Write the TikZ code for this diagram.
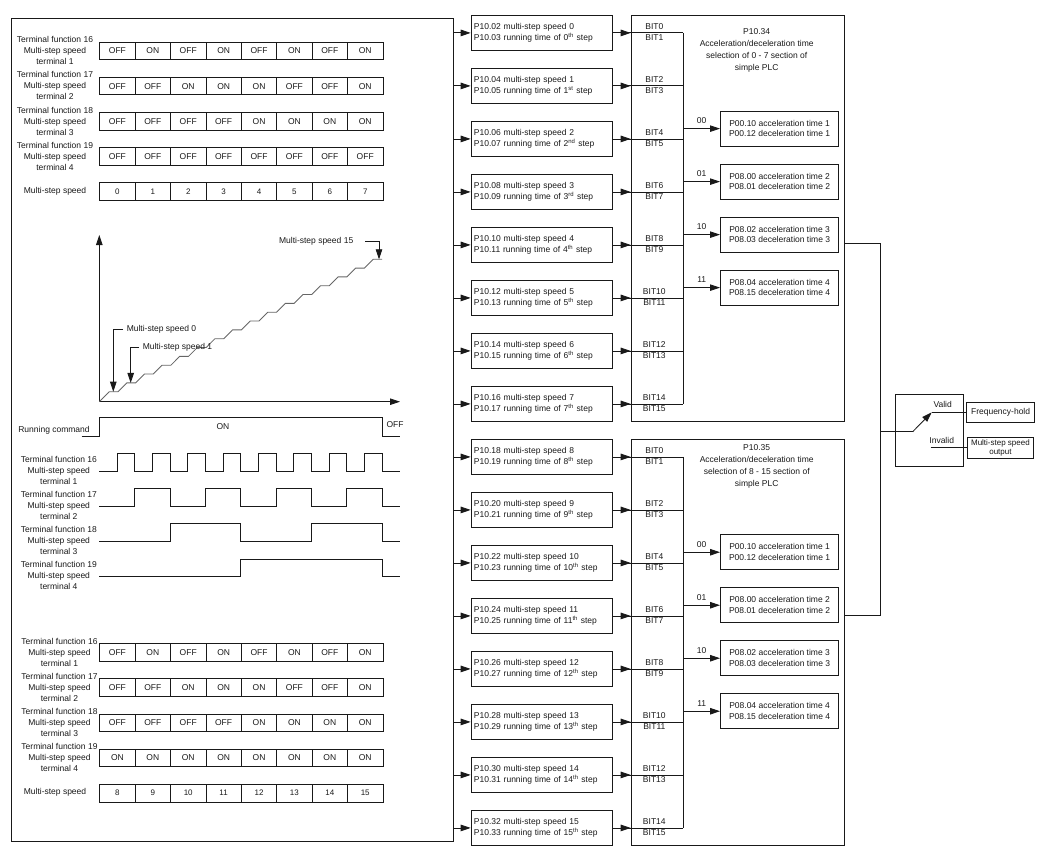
\documentclass[tikz,border=0pt]{standalone}
\usepackage{fontspec}
\setmainfont{Liberation Sans}
\usetikzlibrary{arrows.meta}
\providecommand{\boxfont}{\fontsize{8.5}{10.6}\selectfont}
\providecommand{\numfont}{\fontsize{8}{9}\selectfont}
\tikzset{
  arr/.style={-{Triangle[length=10pt,width=6.5pt]}},
  cell/.style={draw,anchor=north west,minimum width=35.4pt,minimum height=17.6pt,inner sep=0},
  pbox/.style={draw,anchor=north west,minimum height=35pt,text width=136pt,inner xsep=2.8pt,inner ysep=0,align=left,font=\boxfont},
  plcbox/.style={draw,anchor=north west,minimum width=213.6pt,minimum height=406pt,inner sep=0},
  selbox/.style={draw,anchor=north west,minimum width=118.3pt,minimum height=35pt,inner sep=0,align=center,font=\boxfont},
  lbl/.style={align=center,inner sep=1pt},
}

\begin{document}
\begin{tikzpicture}[x=1pt,y=-1pt,line width=0.85pt,color=black!90,font=\fontsize{8.5}{11}\selectfont]
    \pgfmathsetmacro{\colx}{99.3}
    \pgfmathsetmacro{\colw}{35.4}
    \pgfmathsetmacro{\half}{17.675}
    \pgfmathsetmacro{\pitch}{53}
    \useasboundingbox (0,0) rectangle (1051,856);

    % left panel
    \node[draw,anchor=north west,minimum width=442pt,minimum height=823pt,inner sep=0] (panel) at (11,18) {};

    % state tables
    \foreach \y/\cells [count=\r] in {41.7/{OFF,ON,OFF,ON,OFF,ON,OFF,ON},76.85/{OFF,OFF,ON,ON,ON,OFF,OFF,ON},
      112/{OFF,OFF,OFF,OFF,ON,ON,ON,ON},147.15/{OFF,OFF,OFF,OFF,OFF,OFF,OFF,OFF},
      643.3/{OFF,ON,OFF,ON,OFF,ON,OFF,ON},678.45/{OFF,OFF,ON,ON,ON,OFF,OFF,ON},
      713.6/{OFF,OFF,OFF,OFF,ON,ON,ON,ON},748.75/{ON,ON,ON,ON,ON,ON,ON,ON}} {
      \foreach \t [count=\c from 0] in \cells {
        \node[cell] (c\r-\c) at ({\colx+\c*\colw},\y) {\t};
      }
    }
    \foreach \y/\first/\lx in {182.3/0/55,783.9/8/59.5} {
      \foreach \c in {0,...,7} {
        \pgfmathtruncatemacro{\spd}{\first+\c}
        \node[cell,font=\numfont] (n\spd) at ({\colx+\c*\colw},\y) {\spd};
      }
      \node[lbl] (sl\first) at (55,{\y+8.8}) {Multi-step speed};
    }
    \foreach \y/\lx [count=\k from 0] in {41.7/55,76.85/55,112/55,147.15/55,643.3/59.5,678.45/59.5,713.6/59.5,748.75/59.5} {
      \pgfmathtruncatemacro{\fno}{16+mod(\k,4)}
      \pgfmathtruncatemacro{\tno}{1+mod(\k,4)}
      \node[lbl] (rl\k) at (\lx,{\y+9}) {Terminal function \fno\\Multi-step speed\\terminal \tno};
    }

    % speed staircase
    \coordinate (o) at (99.3,401.7);
    \draw[arr] (o) -- (99.3,235);
    \draw[arr] (o) -- (400,401.7);
    \draw[black!60] (o) \foreach \k in {0,...,15} { -- ({109.3+17.6*\k},{391.7-8.83*\k}) -- ++(8.8,0) };
    \coordinate (st0) at (113.3,391.7);
    \coordinate (st1) at (130.7,382.9);
    \coordinate (st15) at (379,259.3);
    \node[anchor=west] (m0) at (123,329.3) {Multi-step speed 0};
    \node[anchor=west] (m1) at (139,347.3) {Multi-step speed 1};
    \node[anchor=east] (m15) at (357,241.7) {Multi-step speed 15};
    \draw[arr] (m0.west) -| (st0);
    \draw[arr] (m1.west) -| (st1);
    \draw[arr] ([xshift=8pt]m15.east) -| (st15);

    % timing
    \node (run) at (54,430.7) {Running command};
    \draw (81.7,436) -- (99.3,436) -- (99.3,417.3) -- (382.7,417.3) -- (382.7,436) -- (400,436);
    \node (on) at (223,427) {ON};
    \node (off) at (395,425) {OFF};
    \foreach \lo/\per [count=\tno] in {471/1,506/2,541/4,576.7/8} {
      \pgfmathtruncatemacro{\cnt}{8/\per-1}
      \pgfmathtruncatemacro{\fno}{15+\tno}
      \draw (99.3,\lo) \foreach \k in {0,...,\cnt} { -| ({99.3+(2*\k+1)*\per*\half},{\lo-17.7}) -| ({99.3+(2*\k+2)*\per*\half},\lo) } -- (400,\lo);
      \node[lbl] (tl\tno) at (58.8,{\lo-1}) {Terminal function \fno\\Multi-step speed\\terminal \tno};
    }

    % simple PLC blocks
    \node[plcbox] (plc0) at (630.7,15) {};
    \node[plcbox] (plc1) at (630.7,439) {};
    \coordinate (bus0) at (683.3,15);
    \coordinate (bus1) at (683.3,439);
    \node[align=center,font=\fontsize{8.5}{12.2}\selectfont] (ttl0) at (756.7,50.6) {P10.34\\Acceleration/deceleration time\\selection of 0 - 7 section of\\simple PLC};
    \node[align=center,font=\fontsize{8.5}{12}\selectfont] (ttl1) at (756.7,466.3) {P10.35\\Acceleration/deceleration time\\selection of 8 - 15 section of\\simple PLC};

    \foreach \i/\pspd/\ptim/\suf in {0/02/03/th,1/04/05/st,2/06/07/nd,3/08/09/rd,4/10/11/th,5/12/13/th,6/14/15/th,7/16/17/th,
      8/18/19/th,9/20/21/th,10/22/23/th,11/24/25/th,12/26/27/th,13/28/29/th,14/30/31/th,15/32/33/th} {
      \pgfmathsetmacro{\boxtop}{\i<8 ? 15+\pitch*\i : 439+\pitch*(\i-8)}
      \pgfmathtruncatemacro{\g}{\i>7}
      \pgfmathtruncatemacro{\bitlo}{2*mod(\i,8)}
      \pgfmathtruncatemacro{\bithi}{\bitlo+1}
      \node[pbox] (spd\i) at (470.7,\boxtop) {P10.\pspd\ multi-step speed \i\\P10.\ptim\ running time of \i\textsuperscript{\suf} step};
      \draw[arr] (panel.east |- spd\i.west) -- (spd\i.west);
      \draw (spd\i.east) -- (spd\i.east -| bus\g);
      \draw[arr] (spd\i.east) -- (spd\i.east -| plc\g.west);
      \node[inner sep=0] (blo\i) at (654.3,{\boxtop+11.6}) {BIT\bitlo};
      \node[inner sep=0] (bhi\i) at (654.3,{\boxtop+23}) {BIT\bithi};
    }
    \draw (spd0.east -| bus0) -- (spd7.east -| bus0);
    \draw (spd8.east -| bus1) -- (spd15.east -| bus1);

    \foreach \g/\ytop in {0/110.7,1/534.3} {
      \foreach \code/\acc/\dec/\tno [count=\k from 0] in {00/P00.10/P00.12/1,01/P08.00/P08.01/2,10/P08.02/P08.03/3,11/P08.04/P08.15/4} {
        \node[selbox] (sel\g\k) at (720,{\ytop+\pitch*\k}) {\acc\ acceleration time \tno\\\dec\ deceleration time \tno};
        \draw[arr] (sel\g\k.west -| bus\g) -- (sel\g\k.west);
        \node (code\g\k) at (701.7,{\ytop+\pitch*\k+10}) {\code};
      }
    }

    % frequency-hold switch
    \coordinate (ya) at (0,243.3);
    \coordinate (yb) at (0,615.7);
    \coordinate (junc) at (880,431.7);
    \draw (plc0.east |- ya) -| (junc |- yb) -- (plc1.east |- yb);
    \node[draw,anchor=north west,minimum width=67.7pt,minimum height=71.4pt,inner sep=0] (sw) at (895,394.3) {};
    \coordinate (swin) at (912.7,431.7);
    \coordinate (swv) at (931.7,412.3);
    \coordinate (swi) at (930.7,447.7);
    \draw (junc) -- (swin);
    \draw[arr] (swin) -- (swv);
    \node (vld) at (942.7,404.3) {Valid};
    \node (invld) at (941.7,440) {Invalid};
    \node[draw,anchor=west,minimum width=68.3pt,minimum height=20pt,inner sep=0] (fhold) at (966,412.3) {Frequency-hold};
    \node[draw,anchor=west,align=center,minimum width=66.6pt,minimum height=21pt,inner sep=0.5pt,font=\fontsize{8}{9.4}\selectfont] (msout) at (966.7,447.8) {Multi-step speed\\output};
    \draw (swv) -- (swv -| fhold.west);
    \draw (swi) -- (swi -| msout.west);
\end{tikzpicture}
\end{document}
